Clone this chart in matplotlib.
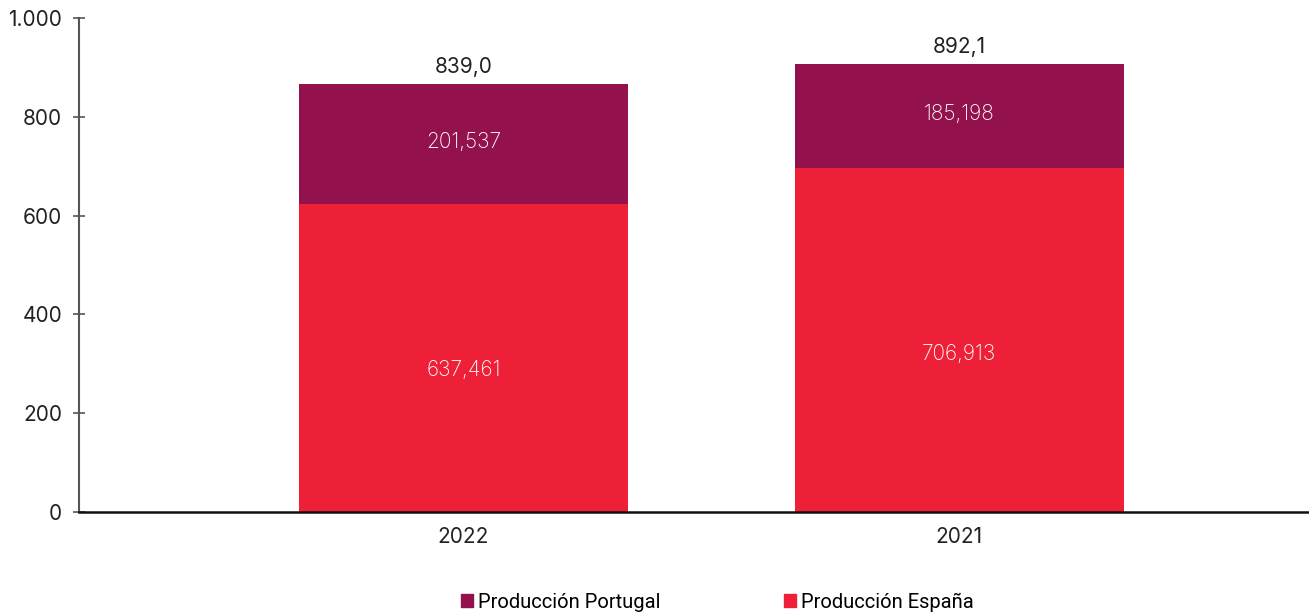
import matplotlib
matplotlib.use("Agg")
import matplotlib.pyplot as plt
from matplotlib.patches import Patch
from matplotlib.ticker import FuncFormatter

# Data (bar heights as drawn in the reference)
years = ["2022", "2021"]
espana = [623.5, 696.4]
portugal = [242.9, 210.5]
espana_labels = ["637,461", "706,913"]
portugal_labels = ["201,537", "185,198"]
total_labels = ["839,0", "892,1"]

c_port = "#93124E"
c_esp = "#EE2038"

plt.rcParams["font.family"] = ["Inter", "DejaVu Sans"]

fig = plt.figure(figsize=(13.09, 6.16), dpi=100)
ax = fig.add_axes([79/1309, 1 - 512/616, 1 - 79/1309, (512 - 18)/616])

x = list(range(len(years)))
w = 0.663
ax.bar(x, espana, width=w, color=c_esp, label="Producción España")
ax.bar(x, portugal, width=w, bottom=espana, color=c_port, label="Producción Portugal")

for i in x:
    ax.text(i, espana[i] * 0.46, espana_labels[i], ha="center", va="center",
            color="white", fontsize=15, fontweight="light")
    ax.text(i, espana[i] + portugal[i] / 2 + 4, portugal_labels[i], ha="center",
            va="center", color="white", fontsize=15, fontweight="light")
    ax.text(i, espana[i] + portugal[i] + 14, total_labels[i], ha="center",
            va="bottom", color="#222222", fontsize=15)

ax.set_xlim(-0.775, 1.705)
ax.set_ylim(0, 1000)
ax.set_yticks([0, 200, 400, 600, 800, 1000])
ax.yaxis.set_major_formatter(FuncFormatter(lambda v, p: f"{int(v):,}".replace(",", ".")))
ax.set_xticks(x)
ax.set_xticklabels(years)
ax.tick_params(axis="x", length=0, pad=11, labelsize=15, labelcolor="#222222")
ax.tick_params(axis="y", direction="inout", length=8, width=1.2, color="#555555",
               pad=8, labelsize=15, labelcolor="#222222")

for s in ["top", "right"]:
    ax.spines[s].set_visible(False)
ax.spines["left"].set_color("#555555")
ax.spines["left"].set_linewidth(1.5)
ax.spines["bottom"].set_color("#111111")
ax.spines["bottom"].set_linewidth(1.8)

handles = [Patch(color=c_port, label="Producción Portugal"),
           Patch(color=c_esp, label="Producción España")]
fig.legend(handles=handles, loc="center", bbox_to_anchor=(717.5/1309, 1 - 602/616),
           ncol=2, frameon=False, handlelength=0.6, handleheight=0.6,
           handletextpad=0.25, columnspacing=6.1,
           prop={"family": ["Roboto", "DejaVu Sans"], "size": 14.5})

fig.savefig("out.png", dpi=100)
